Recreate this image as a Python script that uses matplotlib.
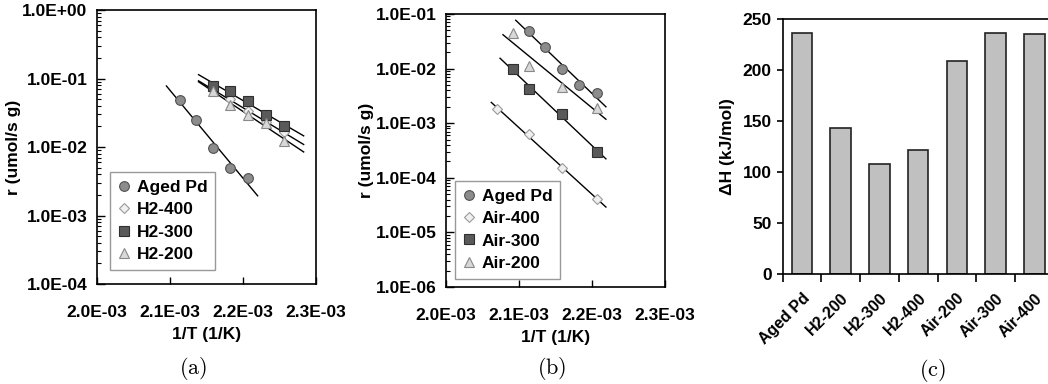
import numpy as np
import matplotlib
matplotlib.use("Agg")
import matplotlib.pyplot as plt
from matplotlib.ticker import FuncFormatter, LogLocator, NullFormatter, FixedLocator

plt.rcParams['font.family'] = ['Liberation Sans', 'DejaVu Sans']
plt.rcParams['font.weight'] = 'bold'
plt.rcParams['axes.labelweight'] = 'bold'

# reaction temperatures (deg C) -> 1/T
T_aged = [200, 195, 190, 185, 180]
r_aged = [0.0490, 0.0248, 0.0098, 0.0049, 0.0035]

T_h2 = [190, 185, 180, 175, 170]
r_h2_400 = [0.068, 0.050, 0.033, 0.023, 0.0164]
r_h2_300 = [0.0778, 0.0657, 0.0474, 0.0293, 0.0205]
r_h2_200 = [0.066, 0.041, 0.0293, 0.0222, 0.0122]

T_air400 = [210, 200, 190, 180]
r_air_400 = [0.00182, 0.000625, 0.000153, 0.0000404]
T_air = [205, 200, 190, 180]
r_air_300 = [0.00984, 0.00423, 0.00147, 0.000301]
r_air_200 = [0.0443, 0.0113, 0.00454, 0.00192]

bar_labels = ['Aged Pd', 'H2-200', 'H2-300', 'H2-400', 'Air-200', 'Air-300', 'Air-400']
dH = [236, 143, 108, 121.5, 209, 236.5, 235]

FS = 12.5


def inv(Tc):
    return 1.0 / (np.array(Tc, dtype=float) + 273.15)


styles = {
    'circle': dict(marker='o', ms=7.0, mfc='#8c8c8c', mec='#505050'),
    'diamond': dict(marker='D', ms=5.5, mfc='#f0f0f0', mec='#9a9a9a'),
    'square': dict(marker='s', ms=6.5, mfc='#5a5a5a', mec='#303030'),
    'triangle': dict(marker='^', ms=7.5, mfc='#d8d8d8', mec='#888888'),
}


def series(ax, Tc, r, style, label, x0, x1):
    x = inv(Tc)
    k, b = np.polyfit(x, np.log10(r), 1)
    xx = np.array([x0, x1])
    ax.plot(xx, 10 ** (k * xx + b), color='black', lw=1.0, zorder=2)
    ax.plot(x, r, ls='none', mew=0.8, label=label, zorder=3, **styles[style])


def style_log(ax, ylo, yhi):
    ax.set_yscale('log')
    ax.set_xlim(2.0e-3, 2.3e-3)
    ax.set_ylim(ylo, yhi)
    ax.xaxis.set_major_locator(FixedLocator([2.0e-3, 2.1e-3, 2.2e-3, 2.3e-3]))
    ax.xaxis.set_major_formatter(FuncFormatter(lambda v, p: f"{v:.1E}"))
    ax.yaxis.set_major_locator(LogLocator(base=10, numticks=10))
    ax.yaxis.set_minor_locator(LogLocator(base=10, subs=np.arange(2, 10), numticks=10))
    ax.yaxis.set_minor_formatter(NullFormatter())
    ax.yaxis.set_major_formatter(FuncFormatter(lambda v, p: f"{v:.1E}"))
    ax.tick_params(axis='x', direction='in', length=5, width=1, pad=15, labelsize=FS)
    ax.tick_params(axis='y', which='major', direction='in', length=6, width=1, pad=7, labelsize=FS)
    ax.tick_params(axis='y', which='minor', direction='in', length=3, width=0.8)
    for s in ax.spines.values():
        s.set_linewidth(1.2)
    ax.set_xlabel('1/T (1/K)', fontsize=FS, labelpad=5)
    ax.set_ylabel('r (umol/s g)', fontsize=FS, labelpad=1)


def add_legend(ax, anchor):
    leg = ax.legend(loc='lower left', bbox_to_anchor=anchor, borderaxespad=0,
                    fancybox=False, edgecolor='#808080', fontsize=FS, handlelength=0.7,
                    handletextpad=0.4, labelspacing=0.42, borderpad=0.45)
    leg.get_frame().set_linewidth(1.0)


fig = plt.figure(figsize=(10.48, 3.84), dpi=100)

# (a)
ax1 = fig.add_axes([0.0926, 0.2604, 0.209, 0.7135])
series(ax1, T_aged, r_aged, 'circle', 'Aged Pd', 2.095e-3, 2.22e-3)
series(ax1, T_h2, r_h2_400, 'diamond', 'H2-400', 2.139e-3, 2.283e-3)
series(ax1, T_h2, r_h2_300, 'square', 'H2-300', 2.139e-3, 2.283e-3)
series(ax1, T_h2, r_h2_200, 'triangle', 'H2-200', 2.139e-3, 2.283e-3)
style_log(ax1, 1e-4, 1e0)
add_legend(ax1, (0.059, 0.051))

# (b)
ax2 = fig.add_axes([0.4256, 0.2526, 0.209, 0.711])
series(ax2, T_aged, r_aged, 'circle', 'Aged Pd', 2.0955e-3, 2.219e-3)
series(ax2, T_air400, r_air_400, 'diamond', 'Air-400', 2.062e-3, 2.219e-3)
series(ax2, T_air, r_air_300, 'square', 'Air-300', 2.074e-3, 2.219e-3)
series(ax2, T_air, r_air_200, 'triangle', 'Air-200', 2.078e-3, 2.219e-3)
style_log(ax2, 1e-6, 1e-1)
add_legend(ax2, (0.04, 0.03))

# (c)
ax3 = fig.add_axes([0.7468, 0.2865, 0.2586, 0.664])
pos = np.arange(len(bar_labels))
ax3.bar(pos, dH, width=0.53, color='#c0c0c0', edgecolor='#222222', linewidth=1.2)
ax3.set_xlim(-0.5, len(bar_labels) - 0.5)
ax3.set_ylim(0, 250)
ax3.set_yticks([0, 50, 100, 150, 200, 250])
ax3.set_xticks(pos)
ax3.set_xticklabels(bar_labels, rotation=45, ha='right', rotation_mode='anchor', fontsize=11.5)
ax3.set_xticks(np.arange(len(bar_labels)) - 0.5, minor=True)
ax3.tick_params(axis='x', which='major', length=0, pad=12)
ax3.tick_params(axis='x', which='minor', direction='out', length=6, width=1.2)
ax3.tick_params(axis='y', direction='out', length=4, width=1.2, labelsize=FS, pad=4)
ax3.spines['right'].set_visible(False)
for s in ['left', 'bottom', 'top']:
    ax3.spines[s].set_linewidth(1.2)
ax3.set_ylabel('ΔH (kJ/mol)', fontsize=FS, labelpad=5)

for x, y, t in [(193, 369, 'a'), (552, 369, 'b'), (932, 370, 'c')]:
    fig.text(x / 1048, 1 - y / 384, r'$\mathrm{(' + t + ')}$', math_fontfamily='cm',
             fontsize=16, ha='center', va='center')

fig.savefig('out.png', dpi=100)
